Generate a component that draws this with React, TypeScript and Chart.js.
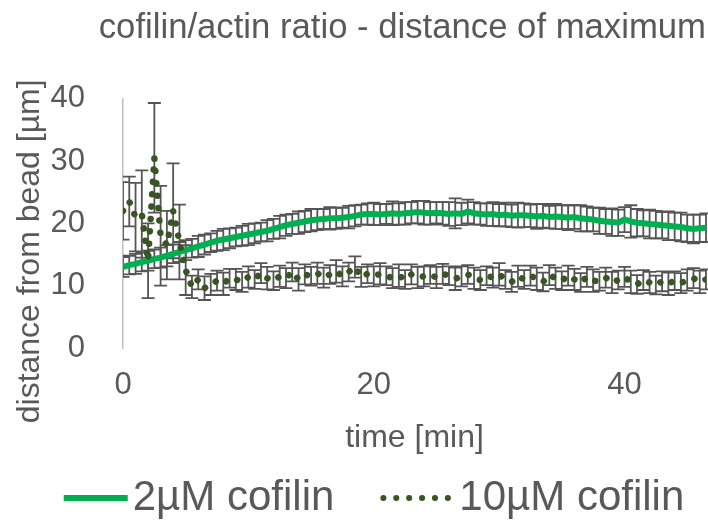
import React, { useEffect, useRef } from "react";
import { Chart, registerables } from "chart.js";

Chart.register(...registerables);

const chartTitle = "cofilin/actin ratio - distance of maximum";
const xAxisTitle = "time [min]";
const yAxisTitle = "distance from bead [µm]";
const seriesNames = ["2µM cofilin", "10µM cofilin"];

const xTicks = [0, 20, 40];
const yTicks = [0, 10, 20, 30, 40];

const times = [
  0, 0.5, 1, 1.5, 2, 2.5, 3, 3.5, 4, 4.5,
  5, 5.5, 6, 6.5, 7, 7.5, 8, 8.5, 9, 9.5,
  10, 10.5, 11, 11.5, 12, 12.5, 13, 13.5, 14, 14.5,
  15, 15.5, 16, 16.5, 17, 17.5, 18, 18.5, 19, 19.5,
  20, 20.5, 21, 21.5, 22, 22.5, 23, 23.5, 24, 24.5,
  25, 25.5, 26, 26.5, 27, 27.5, 28, 28.5, 29, 29.5,
  30, 30.5, 31, 31.5, 32, 32.5, 33, 33.5, 34, 34.5,
  35, 35.5, 36, 36.5, 37, 37.5, 38, 38.5, 39, 39.5,
  40, 40.5, 41, 41.5, 42, 42.5, 43, 43.5, 44, 44.5,
  45, 45.5, 46, 46.5,
];

const cofilin2 = [
  13.0, 13.3, 13.5, 13.8, 14.0, 14.3, 14.5, 14.8, 15.1, 15.4,
  15.7, 16.0, 16.3, 16.6, 16.9, 17.2, 17.4, 17.6, 17.8, 18.0,
  18.2, 18.4, 18.6, 18.8, 19.1, 19.4, 19.7, 19.9, 20.1, 20.3,
  20.5, 20.6, 20.7, 20.8, 20.8, 20.9, 21.0, 21.2, 21.4, 21.5,
  21.5, 21.4, 21.5, 21.6, 21.5, 21.6, 21.7, 21.8, 21.7, 21.6,
  21.7, 21.6, 21.5, 21.6, 21.5, 21.9, 21.6, 21.5, 21.4, 21.5,
  21.3, 21.4, 21.2, 21.3, 21.3, 21.2, 21.1, 21.2, 21.0, 21.1,
  21.0, 20.9, 21.0, 20.8, 20.7, 20.6, 20.4, 20.3, 20.2, 20.1,
  20.6, 20.3, 20.1, 20.0, 19.9, 19.8, 19.7, 19.6, 19.5, 19.4,
  19.2, 19.1, 19.2, 19.3,
];

const cofilin2Err = [
  1.6, 1.5, 1.6, 1.5, 1.6, 1.5, 1.6, 1.7, 1.5, 1.6,
  1.6, 1.5, 1.7, 1.6, 1.5, 1.6, 1.7, 1.6, 1.5, 1.6,
  1.7, 1.6, 1.5, 1.7, 1.6, 1.8, 1.7, 1.6, 1.8, 1.7,
  1.8, 1.7, 1.6, 1.8, 1.7, 1.6, 1.8, 1.7, 1.6, 1.7,
  1.8, 1.7, 1.6, 1.9, 1.7, 1.8, 1.7, 1.8, 1.9, 1.8,
  1.7, 1.8, 1.9, 2.4, 1.8, 1.9, 1.8, 1.7, 1.8, 1.9,
  1.8, 1.9, 1.8, 2.0, 1.9, 1.8, 2.0, 1.9, 1.8, 2.0,
  1.9, 2.0, 1.9, 2.1, 2.0, 1.9, 2.1, 2.0, 2.2, 2.1,
  2.0, 2.6, 2.2, 2.1, 2.3, 2.2, 2.1, 2.3, 2.2, 2.3,
  2.2, 2.3, 2.2, 2.3,
];

const cofilin10 = [
  22.0, 23.5, 21.0, 21.5, 14.0, 30.5, 18.0, 16.5, 22.0, 17.0,
  12.5, 9.8, 11.0, 9.6, 10.2, 10.8, 10.3, 11.2, 11.0, 10.6,
  11.4, 11.0, 12.0, 11.2, 10.8, 11.5, 11.2, 12.2, 11.0, 11.8,
  11.5, 12.0, 11.3, 11.8, 12.3, 11.5, 12.2, 13.0, 11.4, 11.9,
  11.5, 11.9, 11.6, 11.2, 11.6, 11.0, 11.8, 11.3, 11.5, 11.8,
  11.3, 11.9, 11.6, 11.1, 11.5, 11.8, 11.2, 10.9, 11.6, 11.3,
  11.8, 11.0, 10.6, 11.5, 11.0, 11.6, 11.1, 10.6, 11.7, 11.2,
  10.8, 11.6, 11.0, 10.5, 11.4, 10.8, 10.7, 11.3, 10.5, 10.9,
  11.4, 10.6, 10.2, 10.9, 10.5, 10.1, 10.7, 10.3, 10.8, 10.4,
  10.9, 11.2, 10.6, 11.0,
];

const cofilin10Err = [
  4.6, 4.0, 5.5, 7.0, 6.0, 8.8, 8.0, 5.5, 7.6, 6.0,
  4.0, 1.8, 1.6, 1.9, 1.7, 1.6, 1.8, 1.5, 1.7, 1.6,
  1.7, 1.5, 1.6, 1.8, 1.5, 1.7, 1.6, 1.5, 1.8, 1.6,
  1.5, 1.7, 1.6, 1.5, 1.8, 1.6, 1.5, 1.7, 1.6, 1.5,
  1.6, 1.7, 1.5, 1.6, 1.8, 1.5, 1.6, 1.7, 1.6, 1.5,
  1.7, 1.6, 1.5, 1.8, 1.6, 1.5, 1.7, 1.6, 1.5, 1.6,
  1.8, 1.5, 1.6, 1.7, 1.5, 1.6, 1.8, 1.5, 1.6, 1.7,
  1.5, 1.6, 1.7, 1.5, 1.6, 1.8, 1.5, 1.6, 1.7, 1.5,
  1.6, 1.8, 1.5, 1.6, 1.7, 1.5, 1.6, 1.8, 1.5, 1.6,
  1.7, 1.6, 1.8, 1.6,
];

const FONT = "'Liberation Sans', Arial, sans-serif";
const TEXT = "#595959";
const GREEN = "#00b050";
const DARK = "#375623";

const errorBarPlugin = {
  id: "errorBars",
  beforeDatasetsDraw(chart: any) {
    const { ctx, chartArea, scales } = chart;
    const x = scales.x;
    const y = scales.y;
    ctx.save();
    ctx.beginPath();
    ctx.rect(chartArea.left, chartArea.top - 20, chartArea.right - chartArea.left + 2, chartArea.bottom - chartArea.top + 20);
    ctx.clip();
    ctx.strokeStyle = "#555555";
    ctx.lineWidth = 1.8;
    const cap = 6.5;
    chart.data.datasets.forEach((ds: any) => {
      const errs: number[] = ds.errors || [];
      ds.data.forEach((pt: any, i: number) => {
        const e = errs[i];
        if (e == null) return;
        const px = x.getPixelForValue(pt.x);
        const top = y.getPixelForValue(pt.y + e);
        const bot = y.getPixelForValue(pt.y - e);
        ctx.beginPath();
        ctx.moveTo(px, top);
        ctx.lineTo(px, bot);
        ctx.moveTo(px - cap, top);
        ctx.lineTo(px + cap, top);
        ctx.moveTo(px - cap, bot);
        ctx.lineTo(px + cap, bot);
        ctx.stroke();
      });
    });
    ctx.restore();
  },
};

const yTitlePlugin = {
  id: "yTitle",
  afterDraw(chart: any) {
    const { ctx, chartArea } = chart;
    ctx.save();
    ctx.translate(30, (chartArea.top + chartArea.bottom) / 2 + 28);
    ctx.rotate(-Math.PI / 2);
    ctx.font = `32px ${FONT}`;
    ctx.fillStyle = TEXT;
    ctx.textAlign = "center";
    ctx.textBaseline = "middle";
    ctx.fillText(yAxisTitle, 0, 0);
    ctx.restore();
  },
};

const legendPlugin = {
  id: "customLegend",
  afterDraw(chart: any) {
    const { ctx } = chart;
    ctx.save();
    ctx.font = `42px ${FONT}`;
    const lineLen1 = 64;
    const lineLen2 = 74;
    const gapText = 5;
    const gapItem = 46;
    const w1 = ctx.measureText(seriesNames[0]).width;
    const w2 = ctx.measureText(seriesNames[1]).width;
    const total = lineLen1 + gapText + w1 + gapItem + lineLen2 + gapText + w2;
    let x0 = 374 - total / 2;
    const yMid = 498;
    ctx.strokeStyle = GREEN;
    ctx.lineWidth = 6;
    ctx.lineCap = "butt";
    ctx.beginPath();
    ctx.moveTo(x0, yMid);
    ctx.lineTo(x0 + lineLen1, yMid);
    ctx.stroke();
    ctx.fillStyle = TEXT;
    ctx.textAlign = "left";
    ctx.textBaseline = "middle";
    ctx.fillText(seriesNames[0], x0 + lineLen1 + gapText, yMid);
    x0 += lineLen1 + gapText + w1 + gapItem;
    ctx.strokeStyle = DARK;
    ctx.lineWidth = 6;
    ctx.lineCap = "round";
    ctx.setLineDash([0.1, 12.8]);
    ctx.beginPath();
    ctx.moveTo(x0 + 3, yMid);
    ctx.lineTo(x0 + lineLen2, yMid);
    ctx.stroke();
    ctx.setLineDash([]);
    ctx.fillText(seriesNames[1], x0 + lineLen2 + gapText, yMid);
    ctx.restore();
  },
};

export default function App() {
  const ref = useRef<HTMLCanvasElement | null>(null);
  useEffect(() => {
    if (!ref.current) return;
    const chart = new Chart(ref.current, {
      type: "line",
      data: {
        datasets: [
          {
            label: seriesNames[0],
            data: times.map((t, i) => ({ x: t, y: cofilin2[i] })),
            errors: cofilin2Err,
            borderColor: GREEN,
            borderWidth: 6,
            pointRadius: 0,
            tension: 0,
            order: 1,
          } as any,
          {
            label: seriesNames[1],
            data: times.map((t, i) => ({ x: t, y: cofilin10[i] })),
            errors: cofilin10Err,
            borderColor: DARK,
            borderWidth: 6.5,
            borderDash: [0.1, 12.3],
            borderCapStyle: "round",
            pointRadius: 0,
            tension: 0,
            order: 0,
          } as any,
        ],
      },
      options: {
        animation: false,
        responsive: true,
        maintainAspectRatio: false,
        devicePixelRatio: 1,
        layout: { padding: { left: 0, right: 2, top: 0, bottom: 0 } },
        plugins: {
          legend: { display: false },
          tooltip: { enabled: false },
          title: {
            display: true,
            text: chartTitle,
            align: "end",
            color: TEXT,
            font: { family: FONT, size: 34.7, weight: "normal" },
            padding: { top: 8, bottom: 49 },
          },
        },
        scales: {
          x: {
            type: "linear",
            min: 0,
            max: 46.5,
            grid: { display: false },
            border: { display: false },
            ticks: { color: TEXT, font: { family: FONT, size: 31 }, padding: 11 },
            afterBuildTicks: (s: any) => {
              s.ticks = xTicks.map((v) => ({ value: v }));
            },
            afterFit: (s: any) => {
              s.height = 172;
            },
            title: {
              display: true,
              text: xAxisTitle,
              color: TEXT,
              font: { family: FONT, size: 32 },
              padding: { top: 0, bottom: 63 },
            },
          },
          y: {
            type: "linear",
            min: 0,
            max: 40,
            grid: { display: false },
            border: { display: true, color: "#bfbfbf", width: 1.5 },
            ticks: { color: TEXT, font: { family: FONT, size: 31 }, padding: 30 },
            afterBuildTicks: (s: any) => {
              s.ticks = yTicks.map((v) => ({ value: v }));
            },
            afterFit: (s: any) => {
              s.width = 123;
            },
          },
        },
      },
      plugins: [errorBarPlugin, yTitlePlugin, legendPlugin],
    } as any);
    return () => chart.destroy();
  }, []);
  return (
    <div style={{ position: "fixed", left: 0, top: 0, width: 708, height: 520, background: "#fff" }}>
      <canvas ref={ref} />
    </div>
  );
}
